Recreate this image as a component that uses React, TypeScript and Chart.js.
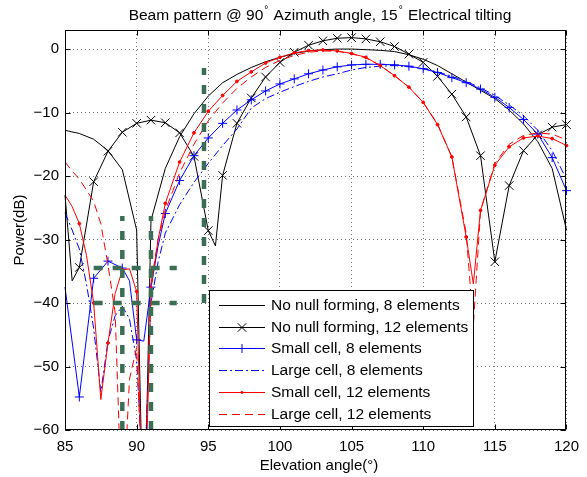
import React, { useEffect, useRef } from "react";
import { Chart, registerables } from "chart.js";

Chart.register(...registerables);

// ---------- data ----------
const xTicks = [85, 90, 95, 100, 105, 110, 115, 120];
const yTicks = [0, -10, -20, -30, -40, -50, -60];

const seriesLabels = [
  "No null forming, 8 elements",
  "No null forming, 12 elements",
  "Small cell, 8 elements",
  "Large cell, 8 elements",
  "Small cell, 12 elements",
  "Large cell, 12 elements",
];

const noNull8: [number, number][] = [
  [85, -12.8], [86, -13.3], [87, -14.2], [88, -16.0], [89, -19.0], [90, -28.5], [90.5, -80],
  [91, -27.0], [92, -18.8], [93, -13.8], [94, -10.2], [95, -7.4], [96, -5.3], [97, -4.0],
  [98, -2.9], [99, -2.0], [100, -1.3], [101, -0.7], [102, -0.3], [103, -0.1], [104, 0],
  [105, 0], [106, -0.1], [107, -0.2], [108, -0.4], [109, -0.9], [110, -1.6], [111, -2.6],
  [112, -3.9], [113, -5.2], [114, -6.5], [115, -7.8], [116, -9.6], [117, -11.8], [118, -14.6],
  [119, -18.8], [120, -28.5],
];

const noNull12: [number, number][] = [
  [85, -23], [85.5, -36.5], [86, -34.4], [87, -20.9], [88, -16.1], [89, -13.1], [90, -11.7],
  [91, -11.2], [92, -11.6], [93, -13.2], [94, -16.9], [95, -28.6], [95.5, -31], [96, -19.9],
  [97, -11.7], [98, -7.7], [99, -4.4], [100, -2.1], [101, -0.5], [102, 0.6], [103, 1.3],
  [104, 1.7], [105, 1.8], [106, 1.6], [107, 1.15], [108, 0.4], [109, -0.8], [110, -2.1],
  [111, -4.3], [112, -7.1], [113, -10.7], [114, -16.8], [115, -33.5], [116, -21.5], [117, -16.0],
  [118, -13.5], [119, -12.3], [120, -11.9],
];

const smallCell8: [number, number][] = [
  [85, -37.5], [86, -54.8], [87, -36.1], [88, -33.4], [89, -34.5], [89.5, -36.5], [90, -45.8],
  [90.5, -46.0], [91, -37.5], [91.5, -31], [92, -25.9], [93, -20.7], [94, -16.8], [95, -14.0],
  [96, -11.7], [97, -9.6], [98, -8.0], [99, -6.6], [100, -5.5], [101, -4.7], [102, -3.9],
  [103, -3.3], [104, -2.8], [105, -2.5], [106, -2.4], [107, -2.4], [108, -2.5], [109, -2.7],
  [110, -3.1], [111, -3.7], [112, -4.5], [113, -5.3], [114, -6.3], [115, -7.6], [116, -9.2],
  [117, -11.1], [118, -13.4], [119, -17.1], [120, -22.3],
];

const largeCell8: [number, number][] = [
  [85, -25.8], [85.5, -28.5], [86, -31.5], [86.5, -37], [87, -44], [87.5, -54], [88, -46],
  [88.5, -42], [89, -40.5], [89.5, -42.5], [90, -49], [90.5, -70], [91, -40], [91.5, -33.5],
  [92, -29], [93, -24.5], [94, -21], [95, -18], [96, -15.2], [97, -12.6], [98, -9.3],
  [99, -7.8], [100, -6.8], [101, -5.9], [102, -5.1], [103, -4.4], [104, -3.9], [105, -3.3],
  [106, -2.9], [107, -2.7], [108, -2.6], [109, -2.8], [110, -3.1], [111, -3.6], [112, -4.3],
  [113, -5.1], [114, -6.1], [115, -7.3], [116, -8.8], [117, -10.5], [118, -12.8], [119, -16.0],
  [120, -20.5],
];

const smallCell12: [number, number][] = [
  [85, -23], [85.5, -24.8], [86, -27.5], [86.5, -32.5], [87, -40], [87.5, -55.2], [88, -46.3],
  [88.5, -38.5], [89, -34.8], [89.5, -34.6], [90, -38.2], [90.5, -80], [91, -37.7], [91.5, -30],
  [92, -24.3], [93, -17.8], [94, -13.2], [95, -9.8], [96, -7.3], [97, -5.1], [98, -3.6],
  [99, -2.2], [100, -1.3], [101, -0.6], [102, -0.25], [103, -0.15], [104, -0.3], [105, -0.7],
  [106, -1.3], [107, -2.6], [108, -4.2], [109, -6.0], [110, -8.4], [111, -11.9], [112, -17.0],
  [113, -29.6], [113.5, -37], [114, -25.4], [115, -18.3], [116, -15.4], [117, -14.0],
  [118, -13.7], [119, -14.1], [120, -15.2],
];

const largeCell12: [number, number][] = [
  [85, -17.8], [85.5, -19.2], [86, -20.5], [86.5, -22.2], [87, -24], [87.5, -27.5], [88, -34],
  [88.5, -41.5], [89, -75], [89.5, -52], [90, -47], [90.5, -75], [91, -37], [91.5, -30],
  [92, -25.5], [93, -19.5], [94, -15], [95, -11.3], [96, -8.5], [97, -6.2], [98, -4.4],
  [99, -2.9], [100, -1.8], [101, -1.0], [102, -0.5], [103, -0.3], [104, -0.35], [105, -0.75],
  [106, -1.4], [107, -2.6], [108, -4.2], [109, -6.0], [110, -8.4], [111, -11.8], [112, -17.0],
  [113, -29.0], [113.5, -43.5], [114, -25.5], [115, -18.0], [116, -15.0], [117, -13.6],
  [118, -13.2], [119, -13.4], [120, -14.3],
];

const guideLines: [number, number][][] = [
  [[89, -60], [89, -26.3]],
  [[91, -60], [91, -26.3]],
  [[87, -34.5], [92.8, -34.5]],
  [[87, -40], [92.8, -40]],
  [[94.7, -40], [94.7, -3]],
];

const allSeries = [noNull8, noNull12, smallCell8, largeCell8, smallCell12, largeCell12];

// ---------- styles ----------
const FONT = "'Liberation Sans', Arial, Helvetica, sans-serif";
const GREEN = "#3c6e55";

type Style = { color: string; dash: number[]; marker: string | false; r: number };
const styles: Style[] = [
  { color: "#000000", dash: [], marker: false, r: 0 },
  { color: "#000000", dash: [], marker: "crossRot", r: 6 },
  { color: "#0000ff", dash: [], marker: "cross", r: 4.5 },
  { color: "#0000ff", dash: [8, 3, 2, 3], marker: false, r: 0 },
  { color: "#ff0000", dash: [], marker: "circle", r: 1.4 },
  { color: "#ff0000", dash: [8, 5], marker: false, r: 0 },
];

const fmt = (v: number) => (v < 0 ? "\u2212" + Math.abs(v) : String(v));

function drawMarker(ctx: CanvasRenderingContext2D, st: Style, x: number, y: number) {
  if (!st.marker) return;
  ctx.save();
  ctx.strokeStyle = st.color;
  ctx.fillStyle = st.color;
  ctx.lineWidth = 1;
  ctx.setLineDash([]);
  ctx.beginPath();
  if (st.marker === "crossRot") {
    const d = st.r * Math.SQRT1_2;
    ctx.moveTo(x - d, y - d); ctx.lineTo(x + d, y + d);
    ctx.moveTo(x - d, y + d); ctx.lineTo(x + d, y - d);
    ctx.stroke();
  } else if (st.marker === "cross") {
    ctx.moveTo(x - st.r, y); ctx.lineTo(x + st.r, y);
    ctx.moveTo(x, y - st.r); ctx.lineTo(x, y + st.r);
    ctx.stroke();
  } else {
    ctx.arc(x, y, st.r, 0, Math.PI * 2);
    ctx.fill();
  }
  ctx.restore();
}

const decorPlugin = {
  id: "decor",
  afterDatasetsDraw(chart: any) {
    const { ctx, chartArea: ca, scales } = chart;
    const L = Math.round(ca.left) + 0.5, R = Math.round(ca.right) - 0.5;
    const T = Math.round(ca.top) + 0.5, B = Math.round(ca.bottom) - 0.5;
    ctx.save();
    ctx.strokeStyle = "#000";
    ctx.lineWidth = 1;
    ctx.setLineDash([]);
    ctx.beginPath();
    const tl = 5;
    xTicks.forEach((v) => {
      const px = Math.round(scales.x.getPixelForValue(v)) + 0.5;
      ctx.moveTo(px, B); ctx.lineTo(px, B - tl);
      ctx.moveTo(px, T); ctx.lineTo(px, T + tl);
    });
    yTicks.forEach((v) => {
      const py = Math.round(scales.y.getPixelForValue(v)) + 0.5;
      ctx.moveTo(L, py); ctx.lineTo(L + tl, py);
      ctx.moveTo(R, py); ctx.lineTo(R - tl, py);
    });
    ctx.stroke();
    ctx.strokeRect(L, T, R - L, B - T);
    ctx.restore();
  },
  afterDraw(chart: any) {
    const { ctx } = chart;
    ctx.save();
    ctx.fillStyle = "#000";
    ctx.textBaseline = "middle";

    // title with superscript degree signs
    const parts: [string, boolean][] = [
      ["Beam pattern @ 90", false], ["\u00b0", true], [" Azimuth angle, 15", false],
      ["\u00b0", true], [" Electrical tilting", false],
    ];
    const mainF = `15.5px ${FONT}`, supF = `10px ${FONT}`;
    let total = 0;
    const ws = parts.map(([t, sup]) => {
      ctx.font = sup ? supF : mainF;
      const w = ctx.measureText(t).width + (sup ? 2 : 0);
      total += w;
      return w;
    });
    let x = 320 - total / 2;
    ctx.textAlign = "left";
    parts.forEach(([t, sup], i) => {
      ctx.font = sup ? supF : mainF;
      ctx.fillText(t, x + (sup ? 1 : 0), sup ? 10 : 15.5);
      x += ws[i];
    });

    // axis titles
    ctx.font = `15px ${FONT}`;
    ctx.textAlign = "center";
    ctx.fillText("Elevation angle(\u00b0)", 319, 466);
    ctx.save();
    ctx.translate(20, 230);
    ctx.rotate(-Math.PI / 2);
    ctx.fillText("Power(dB)", 0, 0);
    ctx.restore();

    // legend
    const bx = 209.5, by = 290.5, bw = 264, bh = 136;
    ctx.fillStyle = "#fff";
    ctx.fillRect(bx, by, bw, bh);
    ctx.strokeStyle = "#000";
    ctx.lineWidth = 1;
    ctx.strokeRect(bx, by, bw, bh);
    ctx.font = `15.5px ${FONT}`;
    ctx.textAlign = "left";
    seriesLabels.forEach((lab, i) => {
      const st = styles[i];
      const yy = Math.round(305 + i * 21.7) + 0.5;
      ctx.save();
      ctx.strokeStyle = st.color;
      ctx.lineWidth = 1;
      ctx.setLineDash(st.dash);
      ctx.beginPath();
      ctx.moveTo(219, yy); ctx.lineTo(265, yy);
      ctx.stroke();
      ctx.restore();
      drawMarker(ctx, st, 242, yy);
      ctx.fillStyle = "#000";
      ctx.fillText(lab, 271, yy);
    });
    ctx.restore();
  },
};

export default function App() {
  const ref = useRef<HTMLCanvasElement | null>(null);

  useEffect(() => {
    if (!ref.current) return;
    const datasets: any[] = allSeries.map((s, i) => {
      const st = styles[i];
      return {
        label: seriesLabels[i],
        data: s.map(([x, y]) => ({ x, y })),
        borderColor: st.color,
        backgroundColor: st.color,
        borderWidth: 1,
        borderDash: st.dash,
        pointStyle: st.marker || "circle",
        pointRadius: (c: any) => {
          const xv = c.raw && c.raw.x;
          return st.marker && Number.isInteger(xv) && xv > 85 ? st.r : 0;
        },
        pointBorderColor: st.color,
        pointBackgroundColor: st.color,
        pointBorderWidth: 1,
        pointHoverRadius: 0,
        tension: 0,
        fill: false,
        order: 10 - i,
        clip: { left: 8, right: 8, top: 0, bottom: 0 },
      };
    });
    guideLines.forEach((g) => {
      datasets.push({
        data: g.map(([x, y]) => ({ x, y })),
        borderColor: GREEN,
        borderWidth: 4.5,
        borderDash: [9, 10],
        borderCapStyle: "butt",
        pointRadius: 0,
        pointHoverRadius: 0,
        tension: 0,
        fill: false,
        order: 0,
        clip: 0,
      });
    });

    const chart = new Chart(ref.current, {
      type: "line",
      data: { datasets },
      options: {
        animation: false,
        responsive: false,
        events: [],
        layout: { padding: { left: 0, right: 13, top: 30, bottom: 0 } },
        plugins: {
          legend: { display: false },
          title: { display: false },
          tooltip: { enabled: false },
        },
        scales: {
          x: {
            type: "linear",
            min: 85,
            max: 120,
            afterBuildTicks: (s: any) => { s.ticks = xTicks.map((v) => ({ value: v })); },
            afterFit: (s: any) => { s.height = 47; },
            grid: { color: "rgba(0,0,0,0.55)", lineWidth: 1, drawTicks: false },
            border: { display: false, dash: [1, 3] },
            ticks: {
              padding: 8,
              color: "#000",
              maxRotation: 0,
              autoSkip: false,
              font: { family: FONT, size: 15 },
              callback: (v: any) => fmt(Number(v)),
            },
          },
          y: {
            type: "linear",
            min: -60,
            max: 3,
            afterBuildTicks: (s: any) => { s.ticks = yTicks.map((v) => ({ value: v })); },
            afterFit: (s: any) => { s.width = 65; },
            grid: { color: "rgba(0,0,0,0.55)", lineWidth: 1, drawTicks: false },
            border: { display: false, dash: [1, 3] },
            ticks: {
              padding: 6,
              color: "#000",
              autoSkip: false,
              font: { family: FONT, size: 15 },
              callback: (v: any) => fmt(Number(v)),
            },
          },
        },
      },
      plugins: [decorPlugin],
    } as any);
    return () => chart.destroy();
  }, []);

  return (
    <canvas
      ref={ref}
      width={587}
      height={477}
      style={{ position: "absolute", left: 0, top: 0, width: 587, height: 477, background: "#fff" }}
    />
  );
}
